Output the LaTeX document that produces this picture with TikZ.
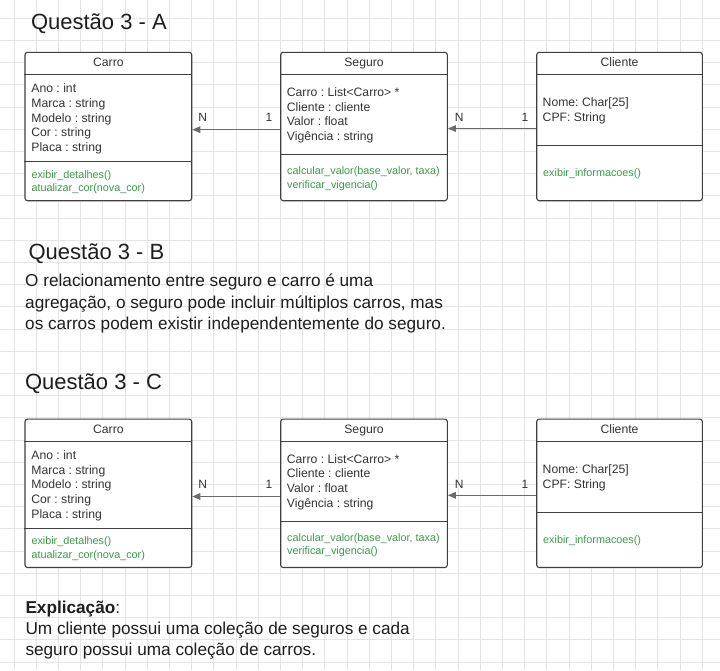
\documentclass[tikz,border=0pt]{standalone}
\usepackage{fontspec}
\setmainfont{Liberation Sans}
\usetikzlibrary{arrows.meta}
\frenchspacing
\definecolor{gridc}{HTML}{E4E4E4}
\definecolor{boxc}{HTML}{3F3F3F}
\definecolor{txt}{HTML}{333333}
\definecolor{meth}{HTML}{3C9A4A}
\definecolor{arrc}{HTML}{6A6A6A}
\definecolor{ttl}{HTML}{1E1E1E}
\tikzset{
 gridline/.style={draw=gridc, line width=0.8pt},
 classbox/.style={draw=boxc, line width=1.1pt, fill=white, rounded corners=2.5pt, inner sep=0pt},
 sepline/.style={draw=boxc, line width=1.1pt},
 attr/.style={anchor=base west, inner sep=0pt, text=txt, font=\fontsize{12.2}{14}\selectfont\frenchspacing},
 methd/.style={anchor=base west, inner sep=0pt, text=meth, font=\fontsize{10.8}{13}\selectfont},
 hdr/.style={anchor=base, inner sep=0pt, text=txt, font=\fontsize{12.2}{14}\selectfont},
 mult/.style={anchor=base, inner sep=0pt, text=txt, font=\fontsize{12}{14}\selectfont},
 assoc/.style={draw=arrc, line width=1.4pt, -{Triangle[length=8pt,width=6.5pt]}},
 qtitle/.style={anchor=base west, inner sep=0pt, text=ttl, font=\fontsize{22}{26}\selectfont},
 para/.style={anchor=base west, inner sep=0pt, text=ttl, font=\fontsize{17.2}{21}\selectfont\frenchspacing},
}
\newcommand{\umlsection}[2]{%
 % boxes
 \node[classbox, minimum width=166.7pt, minimum height=148.4pt] (#1carro) at (108.35,{126.5+#2}) {};
 \node[classbox, minimum width=166.6pt, minimum height=148.4pt] (#1seguro) at (364,{126.5+#2}) {};
 \node[classbox, minimum width=165.6pt, minimum height=148.4pt] (#1cliente) at (619.5,{126.5+#2}) {};
 % compartments
 \draw[sepline] ([yshift=-23pt]#1carro.north west) -- ([yshift=-23pt]#1carro.north east);
 \draw[sepline] ([yshift=-110pt]#1carro.north west) -- ([yshift=-110pt]#1carro.north east);
 \draw[sepline] ([yshift=-23pt]#1seguro.north west) -- ([yshift=-23pt]#1seguro.north east);
 \draw[sepline] ([yshift=-102.7pt]#1seguro.north west) -- ([yshift=-102.7pt]#1seguro.north east);
 \draw[sepline] ([yshift=-22.5pt]#1cliente.north west) -- ([yshift=-22.5pt]#1cliente.north east);
 \draw[sepline] ([yshift=-93.7pt]#1cliente.north west) -- ([yshift=-93.7pt]#1cliente.north east);
 % headers
 \node[hdr] (#1carroname) at (108.35,{66.8+#2}) {Carro};
 \node[hdr] (#1seguroname) at (364,{66.8+#2}) {Seguro};
 \node[hdr] (#1clientename) at (619.5,{66.8+#2}) {Cliente};
 % attributes
 \foreach \t [count=\k] in {Ano : int, Marca : string, Modelo : string, Cor : string, Placa : string}
   \node[attr] (#1carroattr\k) at (31.2,{92.5+14.8*(\k-1)+#2}) {\t};
 \foreach \t [count=\k] in {Carro : List<Carro> *, Cliente : cliente, Valor : float, Vigência : string}
   \node[attr] (#1seguroattr\k) at (286.7,{96.2+14.8*(\k-1)+#2}) {\t};
 \foreach \t [count=\k] in {Nome: Char[25], CPF: String}
   \node[attr] (#1clienteattr\k) at (542.5,{106.8+14.5*(\k-1)+#2}) {\t};
 % methods
 \foreach \t [count=\k] in {exibir\_detalhes(), atualizar\_cor(nova\_cor)}
   \node[methd] (#1carrometh\k) at (31.3,{178+13.3*(\k-1)+#2}) {\t};
 \foreach \t [count=\k] in {{calcular\_valor(base\_valor, taxa)}, verificar\_vigencia()}
   \node[methd] (#1segurometh\k) at (287,{174.7+13.3*(\k-1)+#2}) {\t};
 \node[methd] (#1clientemeth1) at (543,{176.7+#2}) {exibir\_informacoes()};
 % associations
 \draw[assoc] ([yshift=-3.2pt]#1seguro.west) -- ([yshift=-3.2pt]#1carro.east);
 \draw[assoc] ([yshift=-2pt]#1cliente.west) -- ([yshift=-2pt]#1seguro.east);
 \node[mult] (#1mA) at (202.7,{121.5+#2}) {N};
 \node[mult] (#1mB) at (269,{121.5+#2}) {1};
 \node[mult] (#1mC) at (459.3,{121.5+#2}) {N};
 \node[mult] (#1mD) at (525,{121.5+#2}) {1};
}
\begin{document}
\begin{tikzpicture}[x=1pt,y=-1pt]
\fill[white] (0,0) rectangle (720,670);
\useasboundingbox (0,0) rectangle (720,670);
\foreach \i in {0,...,31} \draw[gridline] ({14+22.2*\i},0) -- ({14+22.2*\i},670);
\foreach \j in {0,...,29} \draw[gridline] (0,{18.2+22.2*\j}) -- (720,{18.2+22.2*\j});
% titles
\node[qtitle] (titleA) at (30.8,29.3) {Questão 3 - A};
\node[qtitle] (titleB) at (28.4,259.3) {Questão 3 - B};
\node[qtitle] (titleC) at (24.8,389.3) {Questão 3 - C};
% section A and C diagrams
\umlsection{a}{0}
\umlsection{c}{366.8}
% paragraph B
\node[para] (pb1) at (25,286.8) {O relacionamento entre seguro e carro é uma};
\node[para] (pb2) at (25,308.1) {agregação, o seguro pode incluir múltiplos carros, mas};
\node[para] (pb3) at (25,329.4) {os carros podem existir independentemente do seguro.};
% explanation
\node[para] (ex1) at (25.3,613.5) {\textbf{Explicação}:};
\node[para] (ex2) at (25.3,634.5) {Um cliente possui uma coleção de seguros e cada};
\node[para] (ex3) at (25.3,655.5) {seguro possui uma coleção de carros.};
\end{tikzpicture}
\end{document}
